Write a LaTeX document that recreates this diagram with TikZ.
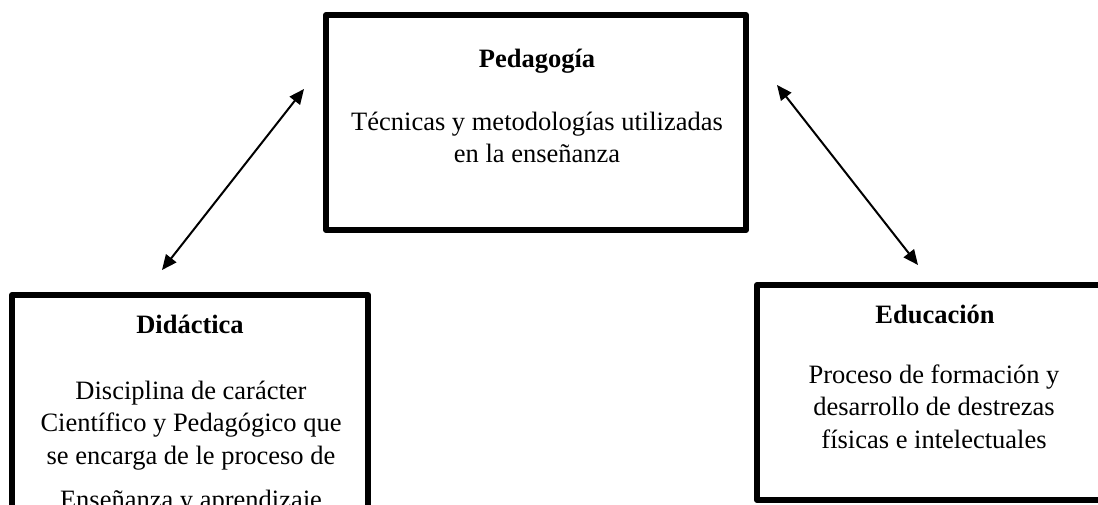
\documentclass[tikz,border=0pt]{standalone}
\usepackage{fontspec}
\setmainfont{Liberation Serif}
\usetikzlibrary{arrows.meta}
\tikzset{
  boxframe/.style={draw=black, line width=6pt, line join=round, fill=none, inner sep=0pt},
  txt/.style={anchor=base, inner sep=0pt, font=\fontsize{26.5}{32}\selectfont},
  ttl/.style={anchor=base, inner sep=0pt, font=\fontsize{26.5}{32}\selectfont\bfseries},
  link/.style={line width=2pt, {Triangle[length=15pt,width=13pt]}-{Triangle[length=15pt,width=13pt]}}
}
\begin{document}
\begin{tikzpicture}[x=1pt,y=-1pt]
\useasboundingbox (0,0) rectangle (1098,505);
\clip (0,0) rectangle (1098,505);
\fill[white] (0,0) rectangle (1098,505);
% boxes
\node[boxframe, minimum width=420pt, minimum height=215pt] (ped) at (536,122.5) {};
\node[boxframe, minimum width=356pt, minimum height=260pt] (did) at (190,425) {};
\node[boxframe, minimum width=354pt, minimum height=215pt] (edu) at (934,392.5) {};
% texts
\node[ttl] (pedT) at (537,68) {Pedagogía};
\node[txt] (pedL1) at (537,131) {Técnicas y metodologías utilizadas};
\node[txt] (pedL2) at (537,163) {en la enseñanza};
\node[ttl] (didT) at (190,333) {Didáctica};
\node[txt] (didL1) at (191,399) {Disciplina de carácter};
\node[txt] (didL2) at (191,431) {Científico y Pedagógico que};
\node[txt] (didL3) at (191,464) {se encarga de le proceso de};
\node[txt] (didL4) at (191,508) {Enseñanza y aprendizaje};
\node[ttl] (eduT) at (935,323) {Educación};
\node[txt] (eduL1) at (934,383) {Proceso de formación y};
\node[txt] (eduL2) at (934,415) {desarrollo de destrezas};
\node[txt] (eduL3) at (934,448) {físicas e intelectuales};
% arrow ends
\coordinate (a1) at (162,270);
\coordinate (a2) at (304,89);
\coordinate (b1) at (777,85);
\coordinate (b2) at (918,265);
\draw[link] (a1) -- (a2);
\draw[link] (b1) -- (b2);
\end{tikzpicture}
\end{document}
